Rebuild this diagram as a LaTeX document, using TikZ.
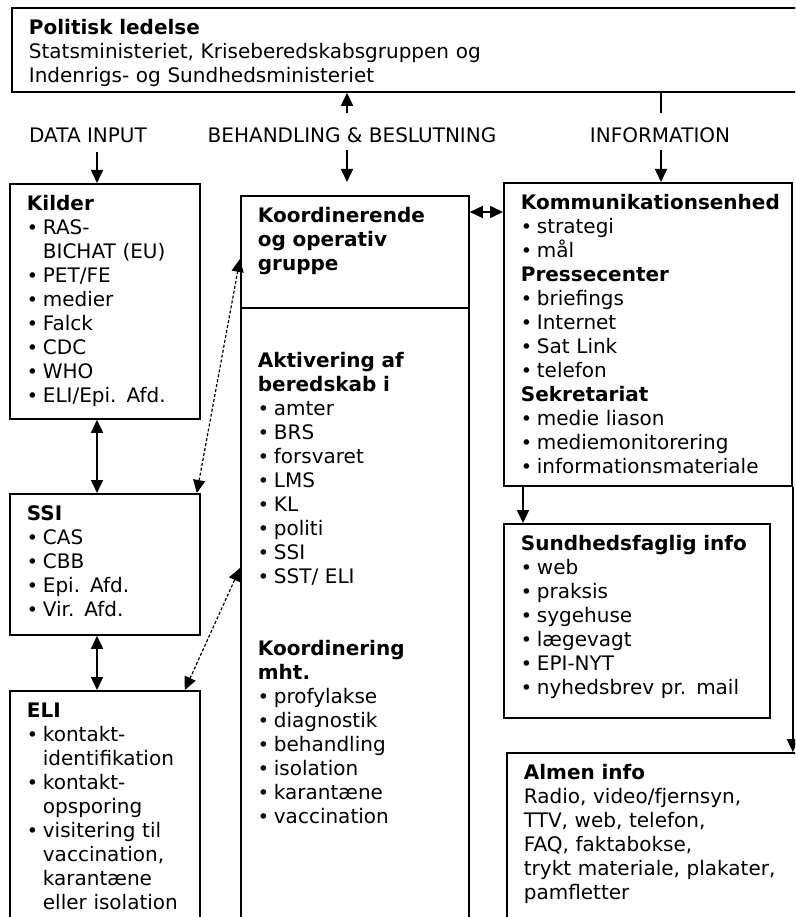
\documentclass[tikz,border=0pt]{standalone}
\usepackage{fontspec}
\setmainfont{DejaVu Sans}
\usetikzlibrary{arrows.meta}
\newcommand{\bl}{\makebox[16pt][l]{\fontsize{19}{19}\selectfont\textbullet}}
\newcommand{\hng}{\hspace*{16pt}}
\tikzset{
  box/.style={draw, line width=1.8pt, anchor=north west, align=left,
    inner xsep=17pt, inner ysep=11.5pt, text height=15pt},
  lbl/.style={inner sep=2pt},
  arr/.style={line width=1.6pt, -{Triangle[length=13pt,width=12pt]}},
  darr/.style={line width=1.6pt, {Triangle[length=13pt,width=12pt]}-{Triangle[length=13pt,width=12pt]}},
  dasharr/.style={line width=1.2pt, dash pattern=on 3pt off 2pt,
    {Triangle[length=13pt,width=12pt]}-{Triangle[length=13pt,width=12pt]}}
}
\begin{document}
\begin{tikzpicture}
                        [x=1pt,y=-1pt,font=\fontsize{20}{24}\selectfont]
                        \useasboundingbox (0,0) rectangle (795,917);
                        \fill[white] (0,0) rectangle (795,917);
                        \clip (0,0) rectangle (795,917);
                        % boxes
                        \node[box, text width=752pt, text depth=46pt] (pol) at (11,7)
                          {\textbf{Politisk ledelse}\\
                           Statsministeriet, Kriseberedskabsgruppen og\\
                           Indenrigs- og Sundhedsministeriet};
                        \node[box, text width=156pt, text depth=197pt] (kilder) at (9,183)
                          {\textbf{Kilder}\\ \bl RAS-\\ \hng BICHAT (EU)\\ \bl PET/FE\\ \bl medier\\
                           \bl Falck\\ \bl CDC\\ \bl WHO\\ \bl ELI/Epi. Afd.};
                        \node[box, text width=156pt, text depth=103pt] (ssi) at (9,493)
                          {\textbf{SSI}\\ \bl CAS\\ \bl CBB\\ \bl Epi. Afd.\\ \bl Vir. Afd.};
                        \node[box, text width=156pt, text depth=202pt] (eli) at (9,690)
                          {\textbf{ELI}\\ \bl kontakt-\\ \hng identifikation\\ \bl kontakt-\\ \hng opsporing\\
                           \bl visitering til\\ \hng vaccination,\\ \hng karantæne\\ \hng eller isolation};
                        \node[box, text width=194pt, text depth=74pt] (koord) at (240,195)
                          {\textbf{Koordinerende}\\ \textbf{og operativ}\\ \textbf{gruppe}};
                        \node[box, text width=194pt, text depth=585pt] (aktiv) at (240,307)
                          {\mbox{}\\[9.5pt] \textbf{Aktivering af}\\ \textbf{beredskab i}\\
                           \bl amter\\ \bl BRS\\ \bl forsvaret\\ \bl LMS\\ \bl KL\\ \bl politi\\ \bl SSI\\
                           \bl SST/ ELI\\[48pt] \textbf{Koordinering}\\ \textbf{mht.}\\
                           \bl profylakse\\ \bl diagnostik\\ \bl behandling\\ \bl isolation\\
                           \bl karantæne\\ \bl vaccination};
                        \node[box, text width=254pt, text depth=265pt] (komm) at (503,182)
                          {\textbf{Kommunikationsenhed}\\ \bl strategi\\ \bl mål\\
                           \textbf{Pressecenter}\\ \bl briefings\\ \bl Internet\\ \bl Sat Link\\ \bl telefon\\
                           \textbf{Sekretariat}\\ \bl medie liason\\ \bl mediemonitorering\\
                           \bl informationsmateriale};
                        \node[box, text width=232pt, text depth=156pt] (sund) at (503,523)
                          {\textbf{Sundhedsfaglig info}\\ \bl web\\ \bl praksis\\ \bl sygehuse\\
                           \bl lægevagt\\ \bl EPI-NYT\\ \bl nyhedsbrev pr. mail};
                        \node[box, text width=260pt, text depth=140pt] (almen) at (506,752)
                          {\textbf{Almen info}\\ Radio, video/fjernsyn,\\ TTV, web, telefon,\\
                           FAQ, faktabokse,\\ trykt materiale, plakater,\\ pamfletter};
                        % column headings
                        \node[lbl] (datain) at (88,135) {DATA INPUT};
                        \node[lbl] (behand) at (352,135) {BEHANDLING \& BESLUTNING};
                        \node[lbl] (inform) at (660,135) {INFORMATION};
                        \coordinate (d1) at (97,152);
                        \coordinate (b0) at (347,113);
                        \coordinate (b1) at (347,150);
                        \coordinate (i0) at (661,113);
                        \coordinate (i1) at (661,150);
                        \coordinate (s1) at ([xshift=20pt]sund.north west);
                        % connectors
                        \draw[arr] (b0) -- (b0 |- pol.south);
                        \draw[line width=1.6pt] (i0 |- pol.south) -- (i0);
                        \draw[arr] (d1) -- (d1 |- kilder.north);
                        \draw[arr, shorten >=13pt] (b1) -- (b1 |- koord.north);
                        \draw[arr] (i1) -- (i1 |- komm.north);
                        \foreach \from/\to in {kilder/ssi,ssi/eli}
                        \draw[darr] (\from.south -| d1) -- (\to.north -| d1);
                        \draw[dasharr] ([xshift=-4pt]ssi.north east) -- ([yshift=-7pt]koord.west);
                        \draw[dasharr] ([xshift=-16pt]eli.north east) -- ([yshift=-261pt]aktiv.north west);
                        \draw[darr] ([yshift=-17pt]koord.north east) coordinate (k1) -- (k1 -| komm.west);
                        \draw[arr] (s1 |- komm.south) -- (s1);
                        \draw[arr] (komm.south east) -- (komm.south east |- almen.north);
                    \end{tikzpicture}
\end{document}
